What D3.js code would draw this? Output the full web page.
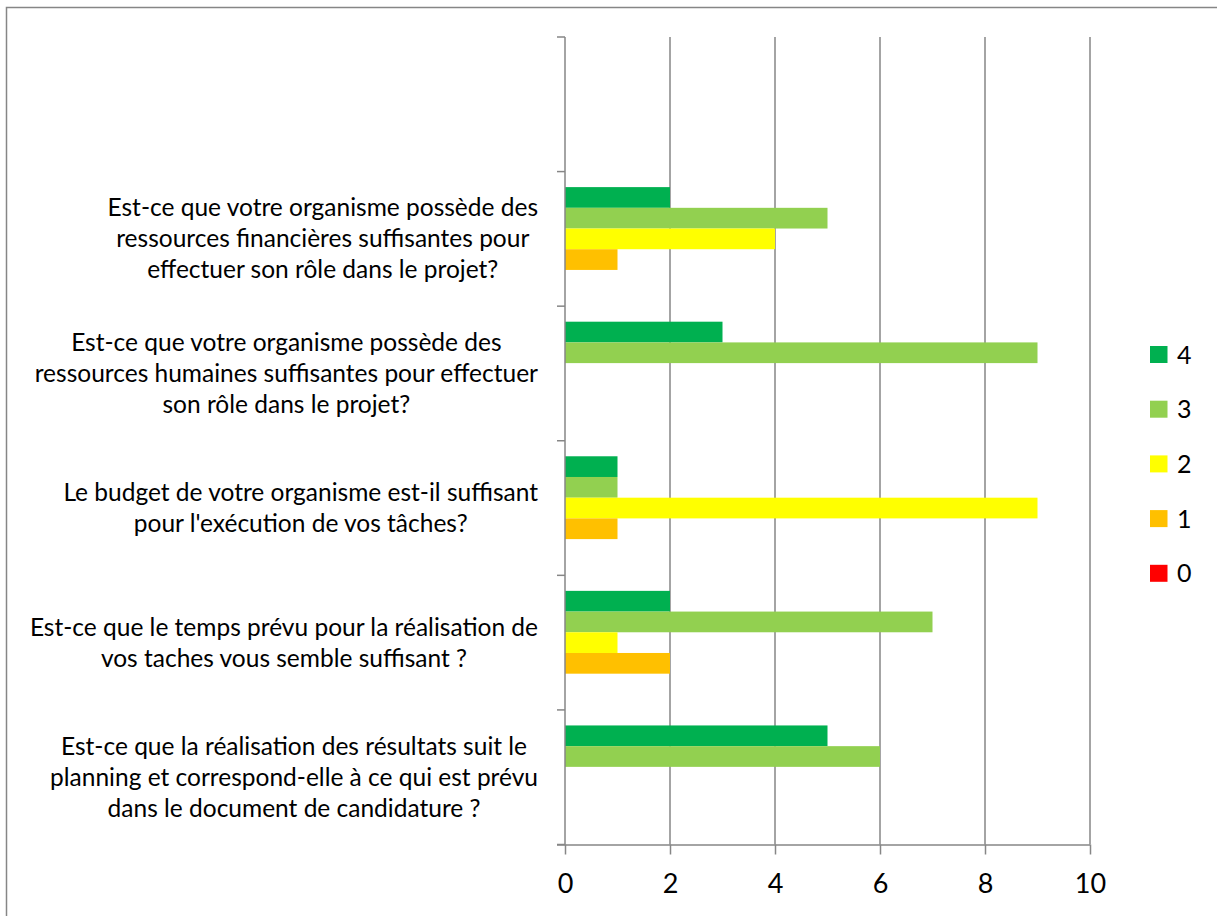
<!DOCTYPE html>
<html>
<head>
<meta charset="utf-8">
<script src="https://cdn.jsdelivr.net/npm/d3@7"></script>
<style>
  html, body { margin: 0; padding: 0; background: #ffffff; }
  svg { display: block; font-family: Lato, "Open Sans", sans-serif; }
</style>
</head>
<body>
<svg id="chart" width="1217" height="916"></svg>
<script>
// ---- data ----
const categories = [
  "",
  "Est-ce que votre organisme possède des|ressources financières suffisantes pour|effectuer son rôle dans le projet?",
  "Est-ce que votre organisme possède des|ressources humaines suffisantes pour effectuer|son rôle dans le projet?",
  "Le budget de votre organisme est-il suffisant|pour l'exécution de vos tâches?",
  "Est-ce que le temps prévu pour la réalisation de|vos taches vous semble suffisant ?",
  "Est-ce que la réalisation des résultats suit le|planning et correspond-elle à ce qui est prévu|dans le document de candidature ?"
];
const seriesNames = ["4", "3", "2", "1", "0"];
const values4 = [0, 2, 3, 1, 2, 5];
const values3 = [0, 5, 9, 1, 7, 6];
const values2 = [0, 4, 0, 9, 1, 0];
const values1 = [0, 1, 0, 1, 2, 0];
const values0 = [0, 0, 0, 0, 0, 0];
const seriesColors = ["#00b050", "#92d050", "#ffff00", "#ffc000", "#ff0000"];
const xTicks = [0, 2, 4, 6, 8, 10];

const seriesValues = [values4, values3, values2, values1, values0];

// ---- layout ----
const svg = d3.select("#chart");
const plot = { left: 565, right: 1090, top: 37, bottom: 844.5 };
const axisColor = "#868686";

// outer chart border
svg.append("rect")
  .attr("x", 6.5).attr("y", 7.5)
  .attr("width", 1400).attr("height", 1200)
  .attr("fill", "none").attr("stroke", axisColor).attr("stroke-width", 1.5);

const x = d3.scaleLinear().domain([0, 10]).range([plot.left, plot.right]);
const y = d3.scaleBand().domain(d3.range(categories.length)).range([plot.top, plot.bottom]).padding(0);
const yInner = d3.scaleBand().domain(seriesNames).range([0, y.bandwidth()])
  .paddingInner(0).paddingOuter(0.75);

// gridlines
svg.append("g").selectAll("line")
  .data(xTicks.filter(t => t > 0))
  .join("line")
  .attr("x1", d => x(d)).attr("x2", d => x(d))
  .attr("y1", plot.top).attr("y2", plot.bottom)
  .attr("stroke", axisColor).attr("stroke-width", 1.5);

// bars
const rows = [];
categories.forEach((c, ci) => {
  seriesNames.forEach((s, si) => {
    rows.push({ ci, s, v: seriesValues[si][ci], color: seriesColors[si] });
  });
});
svg.append("g").selectAll("rect")
  .data(rows.filter(r => r.v > 0))
  .join("rect")
  .attr("x", x(0))
  .attr("y", d => y(d.ci) + yInner(d.s))
  .attr("width", d => x(d.v) - x(0))
  .attr("height", yInner.bandwidth())
  .attr("fill", d => d.color);

// x axis
const xAxis = d3.axisBottom(x).tickValues(xTicks).tickSize(10).tickPadding(19).tickSizeOuter(0);
const gx = svg.append("g").attr("transform", `translate(0,${plot.bottom})`).call(xAxis);
gx.select(".domain").attr("stroke", axisColor).attr("stroke-width", 1.5)
  .attr("d", `M${plot.left - 8},0.5H${plot.right}`);
gx.selectAll(".tick line").attr("stroke", axisColor).attr("stroke-width", 1.5);
gx.selectAll(".tick text").attr("fill", "#000").style("font-size", "27px")
  .style("font-family", "Lato, 'Open Sans', sans-serif");

// y axis (boundary ticks)
const yBoundaries = d3.range(categories.length + 1).map(i => plot.top + i * y.step());
const gy = svg.append("g");
gy.append("line")
  .attr("x1", plot.left).attr("x2", plot.left)
  .attr("y1", plot.top).attr("y2", plot.bottom)
  .attr("stroke", axisColor).attr("stroke-width", 1.5);
gy.selectAll("line.tk").data(yBoundaries).join("line").attr("class", "tk")
  .attr("x1", plot.left - 8).attr("x2", plot.left)
  .attr("y1", d => d).attr("y2", d => d)
  .attr("stroke", axisColor).attr("stroke-width", 1.5);

// category labels (wrapped, centered block, right-aligned near axis)
const labelFont = 24.5;
const lineH = 31;
const labelRight = 538;
categories.forEach((c, ci) => {
  if (!c) return;
  const lines = c.split("|");
  const t = svg.append("text")
    .attr("fill", "#000")
    .style("font-size", labelFont + "px")
    .attr("text-anchor", "middle");
  const cy = y(ci) + y.bandwidth() / 2;
  const y0 = cy - (lines.length - 1) * lineH / 2;
  const spans = lines.map((l, i) =>
    t.append("tspan").attr("y", y0 + i * lineH).attr("dy", "0.35em").text(l));
  let maxW = 0;
  spans.forEach(s => { maxW = Math.max(maxW, s.node().getComputedTextLength()); });
  const cx = labelRight - maxW / 2;
  spans.forEach(s => s.attr("x", cx));
});

// legend
const legend = svg.append("g");
seriesNames.forEach((s, i) => {
  const ly = 346 + i * 54.7;
  legend.append("rect")
    .attr("x", 1150).attr("y", ly).attr("width", 17.5).attr("height", 17)
    .attr("fill", seriesColors[i]);
  legend.append("text")
    .attr("x", 1177).attr("y", ly + 8.5).attr("dy", "0.36em")
    .attr("fill", "#000").style("font-size", "25px")
    .text(s);
});
</script>
</body>
</html>
